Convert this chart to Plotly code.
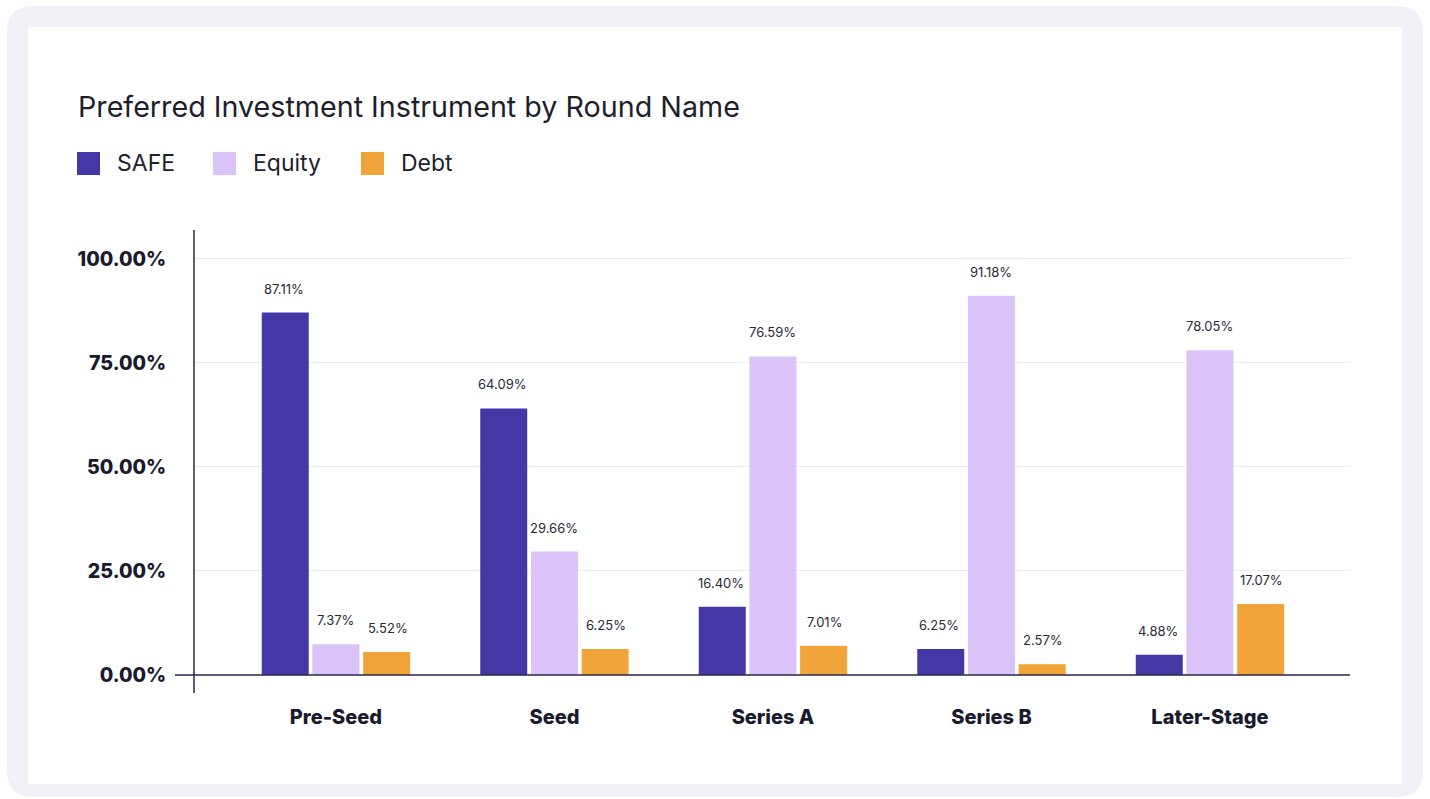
import plotly.graph_objects as go

categories = ["Pre-Seed", "Seed", "Series A", "Series B", "Later-Stage"]
series_names = ["SAFE", "Equity", "Debt"]
safe = [87.11, 64.09, 16.40, 6.25, 4.88]
equity = [7.37, 29.66, 76.59, 91.18, 78.05]
debt = [5.52, 6.25, 7.01, 2.57, 17.07]
series_values = [safe, equity, debt]
colors = ["#4338A6", "#DAC3F8", "#F0A43A"]
y_ticks = [0, 25, 50, 75, 100]

W, H = 1430, 799
ML, MR, MT, MB = 195, 80, 230, 106
PW, PH = W - ML - MR, H - MT - MB


def px(x):
    return (x - ML) / PW


def py(y):
    return (H - MB - y) / PH


def rounded_path(x0, y0, x1, y1, r):
    pts = [
        ("M", [(x0 + r, y0)]), ("L", [(x1 - r, y0)]), ("Q", [(x1, y0), (x1, y0 + r)]),
        ("L", [(x1, y1 - r)]), ("Q", [(x1, y1), (x1 - r, y1)]),
        ("L", [(x0 + r, y1)]), ("Q", [(x0, y1), (x0, y1 - r)]),
        ("L", [(x0, y0 + r)]), ("Q", [(x0, y0), (x0 + r, y0)]),
    ]
    s = ""
    for cmd, ps in pts:
        s += cmd + " " + " ".join(f"{px(a):.5f},{py(b):.5f}" for a, b in ps) + " "
    return s + "Z"


fig = go.Figure()
for name, vals, col in zip(series_names, series_values, colors):
    fig.add_trace(go.Bar(x=categories, y=vals, name=name, marker_color=col,
                         marker_line_width=0, showlegend=False, hoverinfo="x+y+name"))

shapes = [
    dict(type="path", xref="paper", yref="paper", layer="below",
         path=rounded_path(7, 6, 1423, 797, 26), fillcolor="#F0F1F6", line_width=0),
    dict(type="rect", xref="paper", yref="paper", layer="below",
         x0=px(28), x1=px(1402), y0=py(27), y1=py(784), fillcolor="#FFFFFF", line_width=0),
    dict(type="line", xref="paper", yref="y", layer="above",
         x0=px(175), x1=1, y0=0, y1=0, line=dict(color="#2B2948", width=1.6)),
]

annotations = []
offsets = [-52, 0, 52]
for vals, off in zip(series_values, offsets):
    for c, v in zip(categories, vals):
        annotations.append(dict(x=c, y=v, xref="x", yref="y", text=f"{v:.2f}%",
                                showarrow=False, xshift=off, yshift=24, yanchor="middle",
                                font=dict(family="Inter", size=13, color="#2A2A35")))

# legend drawn as squares + text
leg_sq_x = [77, 213, 361]
leg_tx_x = [115, 251, 399]
for name, col, sx, tx in zip(series_names, colors, leg_sq_x, leg_tx_x):
    shapes.append(dict(type="rect", xref="paper", yref="paper", layer="above",
                       x0=px(sx), x1=px(sx + 23), y0=py(152), y1=py(175),
                       fillcolor=col, line_width=0))
    annotations.append(dict(x=px(tx), y=py(163), xref="paper", yref="paper", text=name,
                            showarrow=False, xanchor="left", yanchor="middle",
                            font=dict(family="Inter", size=23, color="#1E1E2D")))

fig.update_layout(
    width=W, height=H,
    margin=dict(l=ML, r=MR, t=MT, b=MB, pad=0),
    paper_bgcolor="#FFFFFF", plot_bgcolor="rgba(0,0,0,0)",
    barmode="group", bargap=0.304, bargroupgap=0.073,
    title=dict(text="Preferred Investment Instrument by Round Name",
               x=78 / W, xref="container", xanchor="left",
               y=1 - 107 / H, yref="container", yanchor="middle",
               font=dict(family="Inter", size=28.7, color="#1E1E2D")),
    shapes=shapes, annotations=annotations,
    xaxis=dict(range=[-0.645, 4.641], showgrid=False, showline=False, zeroline=False,
               tickfont=dict(family="Inter", size=20, color="#1A1A2E", weight=800),
               ticklabelstandoff=10),
    yaxis=dict(range=[-4.33, 106.97], tickvals=y_ticks,
               ticktext=[f"{t:.2f}%" for t in y_ticks],
               showgrid=True, gridcolor="#EDEDF0", gridwidth=1,
               zeroline=False, showline=True, linecolor="#5E5B73", linewidth=1.6,
               tickfont=dict(family="Inter", size=19.6, color="#1A1A2E", weight=800),
               ticklabelstandoff=23),
    font=dict(family="Inter"),
)

fig.write_html("out.html")
